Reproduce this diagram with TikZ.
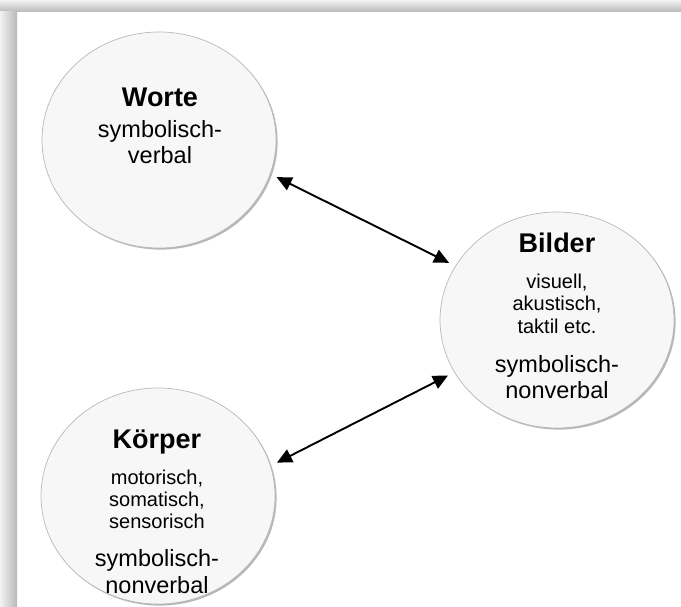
\documentclass[tikz,border=0pt]{standalone}
\usepackage{fontspec}
\setmainfont{Liberation Sans}
\usetikzlibrary{arrows.meta,shadows,shapes.geometric}
\begin{document}
\begin{tikzpicture}[x=1pt,y=-1pt,
  bubble/.style={ellipse, minimum width=234pt, minimum height=216pt, inner sep=0pt,
    fill=gray!6, draw=gray!55, line width=0.7pt,
    drop shadow={shadow xshift=1.6pt, shadow yshift=-1.6pt, fill=gray!80, opacity=0.7}},
  title/.style={font=\fontsize{27}{30}\selectfont\bfseries, anchor=base, inner sep=0pt},
  main/.style={font=\fontsize{23.5}{27}\selectfont, anchor=base, inner sep=0pt},
  small/.style={font=\fontsize{20}{23}\selectfont, anchor=base, inner sep=0pt},
  link/.style={{Triangle[length=15pt,width=14pt]}-{Triangle[length=15pt,width=14pt]},
    line width=1.9pt, shorten <=7pt, shorten >=7pt}]
\useasboundingbox (0,0) rectangle (681,607);
\fill[white] (0,0) rectangle (681,607);
% frame shadow bands
\shade[top color=gray!10, bottom color=gray!55] (0,0) rectangle (681,12);
\shade[left color=gray!10, right color=gray!55] (0,12) rectangle (17,607);

% circles
\node[bubble] (W) at (159,140) {};
\node[bubble] (B) at (557,320) {};
\node[bubble] (K) at (158,496) {};

% Worte
\node[title] (w1) at (160,107) {Worte};
\node[main] (w2) at (160,138) {symbolisch-};
\node[main] (w3) at (160,164) {verbal};

% Bilder
\node[title] (b1) at (557,253) {Bilder};
\node[small] (b2) at (557,289) {visuell,};
\node[small] (b3) at (557,311) {akustisch,};
\node[small] (b4) at (557,333) {taktil etc.};
\node[main] (b5) at (557,372) {symbolisch-};
\node[main] (b6) at (557,398) {nonverbal};

% Koerper
\node[title] (k1) at (157,448) {Körper};
\node[small] (k2) at (157,484) {motorisch,};
\node[small] (k3) at (157,506) {somatisch,};
\node[small] (k4) at (157,528) {sensorisch};
\node[main] (k5) at (157,566) {symbolisch-};
\node[main] (k6) at (157,593) {nonverbal};

% connectors
\draw[link] (W.-17.5) -- (B.152);
\draw[link] (K.15.5) -- (B.207.6);
\end{tikzpicture}
\end{document}
